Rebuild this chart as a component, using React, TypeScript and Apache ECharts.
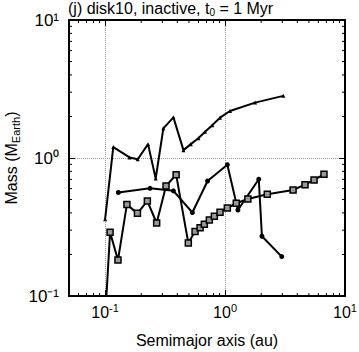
import React, { useEffect, useRef } from "react";
import * as echarts from "echarts";

// Series (x = semimajor axis in au, y = mass in M_Earth)
const triX = [0.1, 0.117, 0.16, 0.187, 0.228, 0.264, 0.306, 0.371, 0.45, 0.518, 0.599, 0.681, 0.783, 0.908, 1.1, 1.78, 3.06];
const triY = [0.36, 1.2, 1.01, 0.98, 1.26, 0.71, 1.64, 1.97, 1.14, 1.26, 1.39, 1.55, 1.73, 1.96, 2.19, 2.52, 2.82];

const dotX = [0.129, 0.237, 0.371, 0.534, 0.715, 1.045, 1.28, 1.91, 2.03, 2.97];
const dotY = [0.562, 0.603, 0.578, 0.403, 0.681, 0.894, 0.42, 0.702, 0.271, 0.193];

const sqX = [0.098, 0.11, 0.128, 0.152, 0.186, 0.225, 0.269, 0.322, 0.391, 0.494, 0.562, 0.619, 0.672, 0.74, 0.814, 0.908, 1.045, 1.24, 1.55, 2.25, 3.69, 4.64, 5.52, 6.68];
const sqY = [0.05, 0.29, 0.182, 0.461, 0.397, 0.488, 0.338, 0.627, 0.757, 0.242, 0.293, 0.312, 0.331, 0.356, 0.379, 0.405, 0.434, 0.47, 0.505, 0.546, 0.586, 0.641, 0.693, 0.762];

const xMin = 0.05;
const xMax = 10;
const yMin = 0.1;
const yMax = 10;
const minorXTicks = [0.06, 0.07, 0.08, 0.09, 0.2, 0.3, 0.4, 0.5, 0.6, 0.7, 0.8, 0.9, 2, 3, 4, 5, 6, 7, 8, 9];
const minorYTicks = [0.2, 0.3, 0.4, 0.5, 0.6, 0.7, 0.8, 0.9, 2, 3, 4, 5, 6, 7, 8, 9];

const FONT = "'Liberation Sans', Arial, Helvetica, sans-serif";

const zip = (xs: number[], ys: number[]) => xs.map((x, i) => [x, ys[i]]);

const expOf = (v: number) => {
  const e = Math.log10(v);
  const r = Math.round(e);
  return Math.abs(e - r) > 1e-6 ? null : r;
};
const powLabel = (v: number) => {
  const r = expOf(v);
  return r === null ? "" : "{b|10}{sup|" + r + "}";
};
const SUP: Record<string, string> = { "-": "\u207B", "0": "\u2070", "1": "\u00B9", "2": "\u00B2", "3": "\u00B3" };
const supLabel = (v: number) => {
  const r = expOf(v);
  return r === null ? "" : "10" + String(r).split("").map((c) => SUP[c] || c).join("");
};

const richFor = (align: string) => ({
  b: { fontSize: 16, lineHeight: 20, align, fontFamily: FONT, color: "#000" },
  sup: { fontSize: 11, lineHeight: 10, verticalAlign: "top", align, fontFamily: FONT, color: "#000" },
});

export default function App() {
  const ref = useRef<HTMLDivElement>(null);
  useEffect(() => {
    document.body.style.margin = "0";
    if (!ref.current) return;
    const chart = echarts.init(ref.current, undefined, { renderer: "svg" });
    const axisLine = { show: true, lineStyle: { color: "#000", width: 2 } };
    const tick = { show: true, inside: true, length: 6, lineStyle: { color: "#000", width: 1 } };
    const option: any = {
      animation: false,
      backgroundColor: "#fff",
      textStyle: { fontFamily: FONT },
      title: {
        text: "(j) disk10, inactive, t{sub|0} = 1 Myr",
        left: 68,
        top: 0,
        padding: 0,
        textStyle: {
          fontFamily: FONT,
          fontSize: 16,
          fontWeight: "normal",
          color: "#000",
          lineHeight: 17,
          rich: {
            sub: { fontSize: 10, lineHeight: 8, verticalAlign: "bottom", fontFamily: FONT, color: "#000" },
          },
        },
      },
      grid: { left: 69, right: 14, top: 20, bottom: 56, outerBoundsMode: "none" },
      xAxis: [
        {
          type: "log",
          logBase: 10,
          min: xMin,
          max: xMax,
          position: "bottom",
          axisLine,
          axisTick: tick,
          splitLine: { show: true, lineStyle: { color: "#999", type: "dotted", width: 1 } },
          axisLabel: {
            formatter: powLabel,
            fontSize: 16,
            lineHeight: 20,
            color: "#000",
            fontFamily: FONT,
            margin: 6,
            align: "center",
            rich: richFor("center"),
          },
          name: "Semimajor axis (au)",
          nameLocation: "middle",
          nameGap: 36,
          nameTextStyle: { fontSize: 16, color: "#000", fontFamily: FONT },
        },
        {
          type: "log",
          logBase: 10,
          min: xMin,
          max: xMax,
          position: "top",
          axisLine,
          axisTick: tick,
          splitLine: { show: false },
          axisLabel: { show: false },
        },
      ],
      yAxis: [
        {
          type: "log",
          logBase: 10,
          min: yMin,
          max: yMax,
          position: "left",
          axisLine,
          axisTick: tick,
          splitLine: { show: true, lineStyle: { color: "#999", type: "dotted", width: 1 } },
          axisLabel: {
            formatter: supLabel,
            fontSize: 17,
            color: "#000",
            fontFamily: FONT,
            margin: 10,
          },
          name: "Mass (M{sub|Earth})",
          nameLocation: "middle",
          nameGap: 48,
          nameMoveOverlap: false,
          nameTextStyle: {
            fontSize: 16,
            color: "#000",
            fontFamily: FONT,
            lineHeight: 20,
            rich: {
              sub: { fontSize: 11, lineHeight: 10, verticalAlign: "bottom", fontFamily: FONT, color: "#000" },
            },
          },
        },
        {
          type: "log",
          logBase: 10,
          min: yMin,
          max: yMax,
          position: "right",
          axisLine,
          axisTick: tick,
          splitLine: { show: false },
          axisLabel: { show: false },
        },
      ],
      series: [
        {
          type: "custom",
          silent: true,
          z: 5,
          data: minorXTicks.map((v) => [v, 1]),
          renderItem: (params: any, api: any) => {
            const v = api.value(0);
            const b = api.coord([v, yMin]);
            const t = api.coord([v, yMax]);
            return {
              type: "group",
              children: [
                { type: "line", shape: { x1: b[0], y1: b[1], x2: b[0], y2: b[1] - 3 }, style: { stroke: "#000", lineWidth: 1 } },
                { type: "line", shape: { x1: t[0], y1: t[1], x2: t[0], y2: t[1] + 3 }, style: { stroke: "#000", lineWidth: 1 } },
              ],
            };
          },
        },
        {
          type: "custom",
          silent: true,
          z: 5,
          data: minorYTicks.map((v) => [1, v]),
          renderItem: (params: any, api: any) => {
            const v = api.value(1);
            const l = api.coord([xMin, v]);
            const r = api.coord([xMax, v]);
            return {
              type: "group",
              children: [
                { type: "line", shape: { x1: l[0], y1: l[1], x2: l[0] + 3, y2: l[1] }, style: { stroke: "#000", lineWidth: 1 } },
                { type: "line", shape: { x1: r[0], y1: r[1], x2: r[0] - 3, y2: r[1] }, style: { stroke: "#000", lineWidth: 1 } },
              ],
            };
          },
        },
        {
          type: "line",
          data: zip(triX, triY),
          symbol: "triangle",
          symbolSize: 4,
          showAllSymbol: true,
          lineStyle: { color: "#000", width: 2 },
          itemStyle: { color: "#000" },
          z: 3,
        },
        {
          type: "line",
          data: zip(dotX, dotY),
          symbol: "circle",
          symbolSize: 5,
          showAllSymbol: true,
          lineStyle: { color: "#000", width: 2 },
          itemStyle: { color: "#000" },
          z: 3,
        },
        {
          type: "line",
          data: zip(sqX, sqY),
          symbol: "rect",
          symbolSize: 6,
          showAllSymbol: true,
          lineStyle: { color: "#000", width: 2 },
          itemStyle: { color: "#999", borderColor: "#000", borderWidth: 1.5 },
          z: 4,
        },
      ],
    };
    chart.setOption(option);
    return () => chart.dispose();
  }, []);
  return <div ref={ref} style={{ width: 359, height: 352 }} />;
}
